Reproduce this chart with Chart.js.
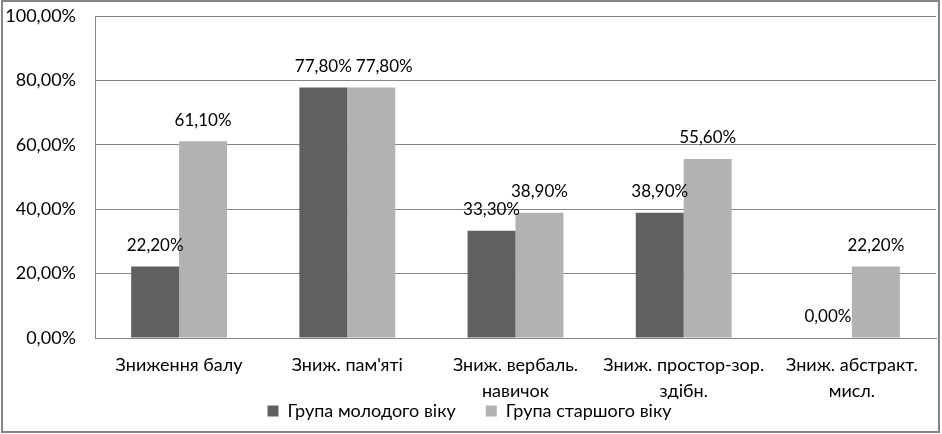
<!DOCTYPE html>
<html>
<head>
<meta charset="utf-8">
<script src="https://cdn.jsdelivr.net/npm/chart.js@4.4.1/dist/chart.umd.min.js"></script>
<style>
  html, body { margin: 0; padding: 0; background: #fff; }
  #frame {
    position: absolute; left: 1px; top: 0px;
    width: 939px; height: 433px;
    border: 2px solid #868686; box-sizing: border-box;
  }
  #frame canvas { display: block; }
</style>
</head>
<body>
<div id="frame"><canvas id="chart" width="935" height="429"></canvas></div>
<script>
const categories = [
  'Зниження балу',
  'Зниж. пам\'яті',
  ['Зниж. вербаль.', 'навичок'],
  ['Зниж. простор-зор.', 'здібн.'],
  ['Зниж. абстракт.', 'мисл.']
];
const youngGroup = [22.2, 77.8, 33.3, 38.9, 0];
const olderGroup = [61.1, 77.8, 38.9, 55.6, 22.2];
const yTicks = [0, 20, 40, 60, 80, 100];

const FONT = 'Lato, "Open Sans", sans-serif';
const pct = v => v.toFixed(2).replace('.', ',') + '%';

// draws the value above every bar, like Excel data labels;
// a label that would collide with its neighbour on the same line is nudged right
const barLabels = {
  id: 'barLabels',
  afterDatasetsDraw(chart) {
    const ctx = chart.ctx;
    ctx.save();
    ctx.font = '17px ' + FONT;
    ctx.fillStyle = '#000';
    ctx.textAlign = 'center';
    ctx.textBaseline = 'middle';
    const metas = chart.data.datasets.map((ds, i) => chart.getDatasetMeta(i));
    chart.data.labels.forEach((_, j) => {
      let prev = null;
      chart.data.datasets.forEach((ds, i) => {
        const bar = metas[i].data[j];
        const text = pct(ds.data[j]);
        const w = ctx.measureText(text).width;
        let x = bar.x;
        const y = bar.y - 21;
        if (prev && Math.abs(prev.y - y) < 16 && x - w / 2 < prev.right + 4) {
          x = prev.right + 4 + w / 2;
        }
        ctx.fillText(text, x, y);
        prev = { y, right: x + w / 2 };
      });
    });
    ctx.restore();
  }
};

new Chart(document.getElementById('chart'), {
  type: 'bar',
  data: {
    labels: categories,
    datasets: [
      { label: 'Група молодого віку', data: youngGroup, backgroundColor: '#606060' },
      { label: 'Група старшого віку', data: olderGroup, backgroundColor: '#b2b2b2' }
    ]
  },
  options: {
    responsive: false,
    animation: false,
    layout: { padding: { top: 14, right: 2, left: 0, bottom: 1 } },
    datasets: { bar: { categoryPercentage: 0.57, barPercentage: 1 } },
    scales: {
      x: {
        grid: { display: false },
        border: { color: '#868686', width: 1 },
        ticks: {
          color: '#000', font: { family: FONT, size: 18, lineHeight: 1.4 },
          padding: 7, maxRotation: 0, autoSkip: false
        },
        afterFit(scale) {
          scale.height = 61;
          scale.paddingLeft = 0;
          scale.paddingRight = 0;
        }
      },
      y: {
        min: 0, max: 100,
        afterBuildTicks(scale) { scale.ticks = yTicks.map(v => ({ value: v })); },
        grid: { color: '#868686', lineWidth: 1, drawTicks: false },
        border: { color: '#868686', width: 1 },
        ticks: {
          color: '#000', font: { family: FONT, size: 18 },
          padding: 19, callback: v => pct(v)
        },
        afterFit(scale) {
          scale.width = 92;
          scale.paddingTop = 0;
          scale.paddingBottom = 0;
        }
      }
    },
    plugins: {
      legend: {
        position: 'bottom',
        labels: {
          color: '#000', font: { family: FONT, size: 18 },
          boxWidth: 11, boxHeight: 11, padding: 3,
          generateLabels(chart) {
            const items = Chart.defaults.plugins.legend.labels.generateLabels(chart);
            items.forEach((it, i) => { if (i < items.length - 1) it.text += '\u2003\u2003'; });
            return items;
          }
        }
      },
      tooltip: { enabled: false }
    }
  },
  plugins: [barLabels]
});
</script>
</body>
</html>
